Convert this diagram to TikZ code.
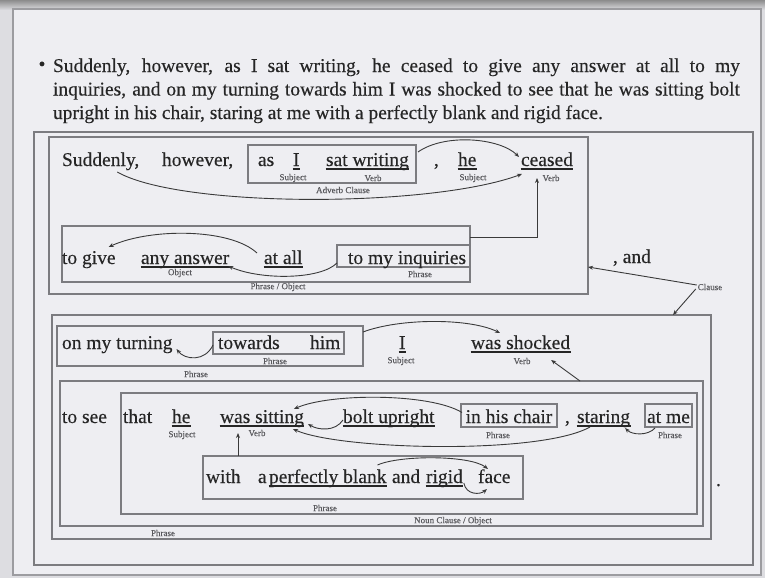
\documentclass[tikz,border=0pt]{standalone}
\usepackage{fontspec}
\setmainfont{Liberation Serif}[FakeBold=0.3]
\usetikzlibrary{calc,fit,arrows.meta}
\definecolor{bg}{HTML}{EEEEF2}
\definecolor{outerbg}{HTML}{DDDDE1}
\definecolor{framec}{HTML}{9C9CA0}
\definecolor{ink}{HTML}{262626}
\definecolor{boxc}{HTML}{7C7C80}
\definecolor{lab}{HTML}{5A5A5E}
\definecolor{conn}{HTML}{3A3A3A}
\begin{document}
\begin{tikzpicture}[x=1pt,y=-1pt,
  w/.style={anchor=base west, inner sep=0pt, outer sep=0pt, text=ink, font=\fontsize{19.5}{23.5}\selectfont},
  wc/.style={w, anchor=base},
  lbl/.style={inner sep=0pt, outer sep=0pt, text=lab, font=\fontsize{9}{10}\selectfont},
  boxst/.style={draw=boxc, line width=1.1pt, inner sep=0pt, outer sep=0pt, rectangle},
  ulst/.style={draw=ink, line width=1.6pt},
  arr/.style={draw=conn, line width=0.9pt, -{Stealth[length=5pt,width=4pt]}},
]
\useasboundingbox (0,0) rectangle (765,578);
% slide background
\fill[outerbg] (0,0) rectangle (765,578);
\shade[top color=black!45, bottom color=outerbg] (0,0) rectangle (765,10);
\draw[framec, line width=1.2pt, fill=bg] (13,9) rectangle (761,575);

% top paragraph
\node[w, anchor=center] (bul) at (42,66) {•};
\node[w] (t1) at (53,72) {\makebox[687pt][s]{Suddenly, however, as I sat writing, he ceased to give any answer at all to my}};
\node[w] (t2) at (53,95.5) {\makebox[687pt][s]{inquiries, and on my turning towards him I was shocked to see that he was sitting bolt}};
\node[w] (t3) at (53,119) {upright in his chair, staring at me with a perfectly blank and rigid face.};

% boxes
\node[boxst, fit={(34,132) (753,565)}] (outer) {};
\node[boxst, fit={(49,137) (588,294)}] (b1) {};
\node[boxst, fit={(248,145) (416,183)}] (advcl) {};
\node[boxst, fit={(62,226) (470,282)}] (row2) {};
\node[boxst, fit={(337,245) (470,267)}] (inq) {};
\node[boxst, fit={(52,315) (711,539)}] (b2) {};
\node[boxst, fit={(57,326) (363,366)}] (b2a) {};
\node[boxst, fit={(213,332) (344,354)}] (tow) {};
\node[boxst, fit={(60,381) (703,526)}] (b3) {};
\node[boxst, fit={(121,393) (697,514)}] (b4) {};
\node[boxst, fit={(461,404) (557,427)}] (chair) {};
\node[boxst, fit={(645,404) (692,427)}] (atme) {};
\node[boxst, fit={(203,456) (523,499)}] (withbox) {};

% row 1
\node[w] (sudd) at (62,166) {Suddenly,};
\node[w] (howev) at (162,166) {however,};
\node[w] (as1) at (258,166) {as};
\node[w] (i1) at (293,166) {I};
\node[w] (sw) at (326,166) {sat writing};
\node[w] (cm1) at (434,166) {,};
\node[w] (he1) at (458,166) {he};
\node[w] (ceased) at (521,166) {ceased};
% row 2
\node[w] (togive) at (62,264) {to give};
\node[w] (anyans) at (141,264) {any answer};
\node[w] (atall) at (264,264) {at all};
\node[w] (inqtxt) at (348,264) {to my inquiries};
\node[w] (andtxt) at (613,263) {, and};
% row b2a
\node[w] (turning) at (62,349) {on my turning};
\node[w] (towards) at (218,349) {towards};
\node[w] (him) at (310,349) {him};
\node[w] (i2) at (399,349) {I};
\node[w] (shocked) at (471,349) {was shocked};
% row 3
\node[w] (tosee) at (62,423) {to see};
\node[w] (that) at (123,423) {that};
\node[w] (he2) at (172,423) {he};
\node[w] (sitting) at (220,423) {was sitting};
\node[w] (bolt) at (343,423) {bolt upright};
\node[wc] (chairtxt) at (509,423) {in his chair};
\node[w] (cm2) at (565,423) {,};
\node[w] (staring) at (577,423) {staring};
\node[wc] (atmetxt) at (668.5,423) {at me};
% with row
\node[w] (with) at (206,483) {with};
\node[w] (a) at (258,483) {a};
\node[w] (blank) at (269,483) {perfectly blank};
\node[w] (and2) at (392,483) {and};
\node[w] (rigid) at (426,483) {rigid};
\node[w] (face) at (478,483) {face};
\node[w] (stray) at (716,486) {.};

% underlines
\foreach \n in {i1,sw,he1,ceased,anyans,atall,i2,shocked,he2,sitting,bolt,staring,blank,rigid}
  \draw[ulst] ($(\n.base west)+(-0.5,3)$) -- ($(\n.base east)+(0.5,3)$);

% labels
\node[lbl] (s1) at (293,178) {Subject};
\node[lbl] (v1) at (373,178) {Verb};
\node[lbl] (ac) at (343,190) {Adverb Clause};
\node[lbl] (s2) at (473,178) {Subject};
\node[lbl] (v2) at (551,178) {Verb};
\node[lbl] (obj) at (180,273) {Object};
\node[lbl] (ph1) at (420,274) {Phrase};
\node[lbl] (po) at (278,287) {Phrase / Object};
\node[lbl] (clause) at (710,287) {Clause};
\node[lbl] (ph2) at (275,361) {Phrase};
\node[lbl] (ph3) at (196,374) {Phrase};
\node[lbl] (s3) at (401,361) {Subject};
\node[lbl] (v3) at (522,361) {Verb};
\node[lbl] (s4) at (182,435) {Subject};
\node[lbl] (v4) at (257,433) {Verb};
\node[lbl] (ph4) at (498,435) {Phrase};
\node[lbl] (ph5) at (670,435) {Phrase};
\node[lbl] (ph6) at (325,508) {Phrase};
\node[lbl] (nc) at (453,521) {Noun Clause / Object};
\node[lbl] (ph7) at (163,533) {Phrase};

% connectors
\draw[arr] ($(sudd.base east)+(-22,6)$) .. controls (180,208) and (430,208) .. ($(ceased.base west)+(1,8)$);
\draw[arr] ($(advcl.north east)+(2,7)$) .. controls (445,133) and (500,138) .. ($(ceased.base west)+(-2,-9)$);
\draw[arr] ($(row2.north east)+(0,11)$) -| ($(ceased.base west)+(16,12)$);
\draw[arr] ($(atall.base west)+(-7,-11)$) .. controls (230,228) and (150,228) .. ($(togive.base east)+(-7,-17)$);
\draw[arr] ($(inq.south west)+(0,-4)$) .. controls (320,280) and (260,280) .. ($(anyans.base east)+(-1,2)$);
\draw[arr] ($(clause.west)+(-1,-2)$) -- ($(b1.north east)+(0,130)$);
\draw[arr] ($(clause.west)+(-2,2)$) -- ($(b2.north east)+(-38,0)$);
\draw[arr] ($(tow.west)+(0,2)$) .. controls (205,362) and (185,360) .. ($(turning.base east)+(4,0)$);
\draw[arr] ($(b2a.north east)+(0,6)$) .. controls (400,318) and (470,318) .. ($(shocked.base west)+(29,-16)$);
\draw[arr] ($(b3.north west)+(520,0)$) -- ($(shocked.base east)+(-19,11)$);
\draw[arr] ($(withbox.north west)+(35,0)$) -- ($(sitting.base west)+(18,10)$);
\draw[arr] ($(chair.west)+(1,-3)$) .. controls (430,393) and (330,393) .. ($(sitting.base east)+(-10,-14)$);
\draw[arr] ($(bolt.base west)+(0,-3)$) .. controls (335,432) and (318,430) .. ($(sitting.base east)+(4,1)$);
\draw[arr] ($(staring.base west)+(13,4)$) .. controls (540,455) and (340,450) .. ($(sitting.base east)+(-11,6)$);
\draw[arr] ($(atme.south west)+(10,1)$) .. controls (648,436) and (632,435) .. ($(staring.base east)+(-5,5)$);
\draw[arr] ($(blank.base east)+(-9,-18)$) .. controls (400,455) and (470,455) .. ($(face.base west)+(10,-14)$);
\draw[arr] ($(rigid.base east)+(1,0)$) .. controls (466,495) and (480,495) .. ($(face.base west)+(9,6)$);
\end{tikzpicture}
\end{document}
